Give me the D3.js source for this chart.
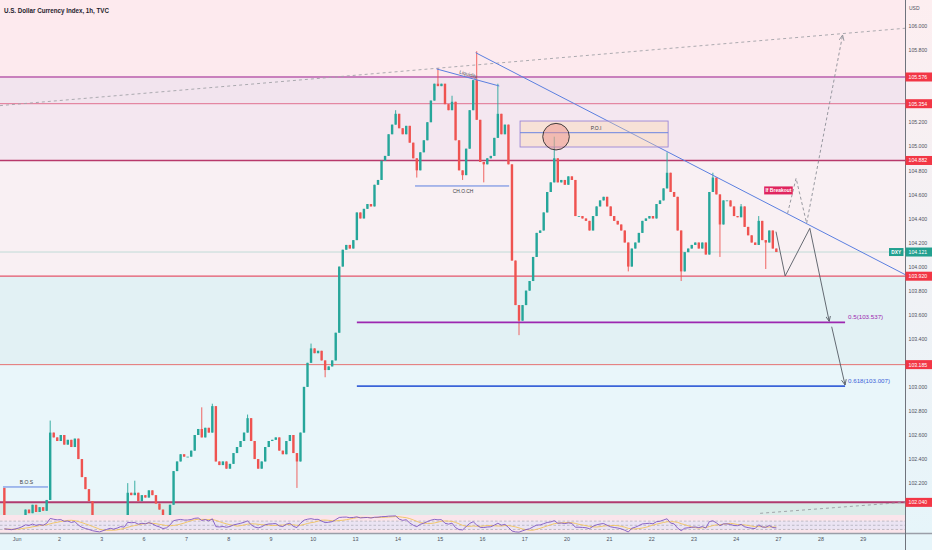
<!DOCTYPE html>
<html>
<head>
<meta charset="utf-8">
<script src="https://cdnjs.cloudflare.com/ajax/libs/d3/7.8.5/d3.min.js"></script>
<style>
  html, body { margin: 0; padding: 0; background: #e6f5fa; }
  svg { display: block; font-family: "Liberation Sans", Arial, sans-serif; }
</style>
</head>
<body>
<div id="chart"></div>
<script>
// ---- data (2h candles, bar 0 = Jun 1 00:00, weekends collapsed) ----
const dayLabels = ["Jun", "2", "3", "6", "7", "8", "9", "10", "13", "14", "15", "16", "17", "20", "21", "22", "23", "24", "27", "28", "29"];
const firstBar = -4;
const firstOpen = 102.16;
const closes = [
  101.85, 101.80, 101.75, 101.78,
  101.82, 101.88, 101.98, 101.95, 102.02, 101.96, 102.00, 101.97, 102.06, 102.62, 102.58, 102.55,
  102.60, 102.52, 102.56, 102.50, 102.57, 102.40, 102.25, 102.15, 102.05, 101.90, 101.80, 101.70,
  101.75, 101.80, 101.85, 101.78, 101.82, 101.88, 101.85, 102.12, 102.10, 102.12, 102.05, 102.10,
  102.08, 102.14, 102.10, 102.03, 101.98, 101.90, 101.92, 102.02, 102.30, 102.38, 102.44, 102.42,
  102.42, 102.47, 102.60, 102.65, 102.58, 102.66, 102.62, 102.84, 102.38, 102.35, 102.38, 102.32,
  102.36, 102.45, 102.50, 102.55, 102.62, 102.74, 102.55, 102.40, 102.32, 102.38, 102.50, 102.55,
  102.56, 102.58, 102.47, 102.44, 102.55, 102.60, 102.45, 102.38, 102.62, 103.00, 103.20, 103.32,
  103.28, 103.30, 103.22, 103.14, 103.17, 103.22, 103.45, 104.00, 104.14, 104.18, 104.15, 104.22,
  104.45, 104.40, 104.48, 104.52, 104.50, 104.68, 104.72, 104.88, 104.92, 105.10, 105.18, 105.27,
  105.15, 105.10, 105.17, 105.03, 104.90, 104.80, 104.95, 105.05, 105.20, 105.38, 105.52, 105.50,
  105.52, 105.35, 105.30, 105.37, 105.05, 104.80, 104.76, 104.98, 105.30, 105.55, 105.22, 104.87,
  104.85, 104.90, 104.92, 105.07, 105.27, 105.10, 105.18, 104.85, 104.05, 103.68, 103.55, 103.68,
  103.80, 103.88, 104.08, 104.28, 104.30, 104.45, 104.62, 104.70, 104.90, 104.70, 104.72, 104.68,
  104.75, 104.72, 104.42, 104.42, 104.40, 104.38, 104.30, 104.42, 104.50, 104.55, 104.58, 104.50,
  104.42, 104.38, 104.35, 104.30, 104.20, 104.00, 104.15, 104.20, 104.28, 104.38, 104.40, 104.42,
  104.40, 104.52, 104.55, 104.65, 104.78, 104.62, 104.58, 104.30, 103.96, 104.12, 104.15, 104.18,
  104.20, 104.15, 104.20, 104.10, 104.62, 104.74, 104.60, 104.35, 104.55, 104.55, 104.50, 104.42,
  104.41, 104.50, 104.33, 104.26, 104.20, 104.18, 104.38, 104.22, 104.20, 104.30, 104.15, 104.121
];
// wick extremes [bar, price]
const wickHighs = [[9, 102.72], [31, 102.20], [33, 102.22], [52, 102.83], [55, 102.86], [65, 102.77],
  [83, 103.36], [107, 105.30], [119, 105.65], [123, 105.42], [130, 105.79], [136, 105.52],
  [152, 105.08], [184, 104.95], [197, 104.78], [205, 104.52], [210, 104.42]];
const wickLows = [[79, 102.16], [87, 103.08], [113, 104.74], [126, 104.72], [132, 104.70], [142, 103.43],
  [173, 103.96], [188, 103.88], [199, 104.08], [212, 103.98]];

const priceTicks = [102.0, 102.2, 102.4, 102.6, 102.8, 103.0, 103.2, 103.4, 103.6, 103.8, 104.0,
  104.2, 104.4, 104.6, 104.8, 105.0, 105.2, 105.4, 105.6, 105.8, 106.0];
const levels = [105.576, 105.354, 104.882, 103.920, 103.185, 102.040];
const lastPrice = 104.121;
const fibRatios = ["0.5", "0.618"];
const fibPrices = [103.537, 103.007];

// drawing anchors [time, price]
const trendTop = [[-4.74, 105.338], [252.0, 105.981]];
const trendDown = [[130.2, 105.778], [252.0, 103.934]];
const trendLow = [[210.9, 101.949], [252.0, 102.041]];
const liquidityLine = [[119.1, 105.643], [136.9, 105.501]];
const chochLine = [[113.0, 104.670], [139.7, 104.670]];
const bosLine = [[-3.89, 102.168], [8.88, 102.168]];
const poiTimes = [142.8, 184.8];
const poiPrices = [105.210, 105.113, 104.994];
const poiCircle = [153.0, 105.080];
const fibTimes = [96.5, 235.0];
const bearPath = [[215.4, 104.290], [218.0, 103.922], [225.0, 104.318], [230.5, 103.545]];
const bearPath2 = [[231.2, 103.500], [235.0, 103.016]];
const bullPath = [[218.7, 104.443], [221.1, 104.734], [224.1, 104.360], [234.3, 105.925]];
const breakoutAnchor = [216.1, 104.633];

// ---- layout ----
const W = 932, H = 550, plotRight = 905, mainBottom = 515, rsiBottom = 533;
const upColor = "#26a69a", downColor = "#ef5350";
const zoneFills = ["#fdeaee", "#f2e4ee", "#f4e7f0", "#f9f0f3", "#e2f1f4", "#e9f6fa", "#d9ebe8"];
const levelColors = ["#c980bd", "#e0708f", "#b8386a", "#e5546a", "#e57373", "#b03a6e"];
const levelWidths = [2, 1, 1.5, 1.2, 1, 2];

const x = d3.scaleLinear().domain([0, 240]).range([16.7, 862.7]);
const y = d3.scaleLinear().domain([101.935, 106.216]).range([mainBottom, 0]);

const svg = d3.select("#chart").append("svg").attr("width", W).attr("height", H);
const defs = svg.append("defs");
defs.append("clipPath").attr("id", "mainClip").append("rect")
  .attr("x", 0).attr("y", 0).attr("width", plotRight).attr("height", mainBottom);
defs.append("clipPath").attr("id", "rsiClip").append("rect")
  .attr("x", 0).attr("y", mainBottom).attr("width", plotRight).attr("height", rsiBottom - mainBottom);
const grad = defs.append("linearGradient").attr("id", "axisBg").attr("x1", 0).attr("y1", 0).attr("x2", 0).attr("y2", 1);
grad.append("stop").attr("offset", "0%").attr("stop-color", "#fdeef0");
grad.append("stop").attr("offset", "100%").attr("stop-color", "#e6f5fa");

function addArrow(id, color) {
  defs.append("marker").attr("id", id).attr("viewBox", "0 0 10 10")
    .attr("refX", 9).attr("refY", 5).attr("markerWidth", 6).attr("markerHeight", 6)
    .attr("markerUnits", "userSpaceOnUse").attr("orient", "auto")
    .append("path").attr("d", "M0,1 L9,5 L0,9").attr("fill", "none")
    .attr("stroke", color).attr("stroke-width", 1.4);
}
addArrow("arrowSolid", "#555a63");
addArrow("arrowDash", "#8c8f96");

// backgrounds
svg.append("rect").attr("width", W).attr("height", H).attr("fill", "#e6f5fa");
svg.append("rect").attr("x", plotRight).attr("width", W - plotRight).attr("height", rsiBottom).attr("fill", "url(#axisBg)");

const main = svg.append("g").attr("clip-path", "url(#mainClip)");
const bounds = [y.domain()[1]].concat(levels, [y.domain()[0]]);
main.selectAll("rect.zone").data(zoneFills).enter().append("rect")
  .attr("class", "zone")
  .attr("x", 0).attr("width", plotRight)
  .attr("y", (d, i) => y(bounds[i]))
  .attr("height", (d, i) => y(bounds[i + 1]) - y(bounds[i]))
  .attr("fill", d => d);

// current price line
main.append("line").attr("x1", 0).attr("x2", plotRight)
  .attr("y1", y(lastPrice)).attr("y2", y(lastPrice))
  .attr("stroke", "#b4d6d1").attr("stroke-width", 0.8);

// level lines
main.selectAll("line.level").data(levels).enter().append("line")
  .attr("class", "level")
  .attr("x1", 0).attr("x2", plotRight)
  .attr("y1", d => y(d)).attr("y2", d => y(d))
  .attr("stroke", (d, i) => levelColors[i]).attr("stroke-width", (d, i) => levelWidths[i]);

// candles
const highMap = new Map(wickHighs), lowMap = new Map(wickLows);
const bars = closes.map((c, i) => {
  const b = firstBar + i;
  const o = i === 0 ? firstOpen : closes[i - 1];
  let h = Math.max(o, c), l = Math.min(o, c);
  if (highMap.has(b)) h = Math.max(h, highMap.get(b));
  if (lowMap.has(b)) l = Math.min(l, lowMap.get(b));
  return { b, o, h, l, c };
});
const candles = main.append("g");
candles.selectAll("line").data(bars).enter().append("line")
  .attr("x1", d => x(d.b + 0.5)).attr("x2", d => x(d.b + 0.5))
  .attr("y1", d => y(d.h)).attr("y2", d => y(d.l))
  .attr("stroke", d => d.c >= d.o ? upColor : downColor).attr("stroke-width", 0.9);
candles.selectAll("rect").data(bars).enter().append("rect")
  .attr("x", d => x(d.b + 0.5) - 1.2).attr("width", 2.4)
  .attr("y", d => y(Math.max(d.o, d.c)))
  .attr("height", d => Math.max(0.8, Math.abs(y(d.o) - y(d.c))))
  .attr("fill", d => d.c >= d.o ? upColor : downColor);

const line = d3.line().x(d => x(d[0])).y(d => y(d[1]));

// trend lines
main.append("path").attr("d", line(trendTop)).attr("fill", "none")
  .attr("stroke", "#a3a3a8").attr("stroke-width", 0.9).attr("stroke-dasharray", "3,3");
main.append("path").attr("d", line(trendLow)).attr("fill", "none")
  .attr("stroke", "#9a9ca2").attr("stroke-width", 0.9).attr("stroke-dasharray", "3,3");
main.append("path").attr("d", line(trendDown)).attr("fill", "none")
  .attr("stroke", "#5b7fe0").attr("stroke-width", 1);
main.append("path").attr("d", line(liquidityLine)).attr("fill", "none")
  .attr("stroke", "#5b7fe0").attr("stroke-width", 1);
main.append("path").attr("d", line(chochLine)).attr("fill", "none")
  .attr("stroke", "#5b7fe0").attr("stroke-width", 1);
main.append("path").attr("d", line(bosLine)).attr("fill", "none")
  .attr("stroke", "#5b7fe0").attr("stroke-width", 1);

const small = (sel, size, color) => sel.attr("font-size", size).attr("fill", color);
// liquidity label, tilted along its line
const lq0 = [x(liquidityLine[0][0]), y(liquidityLine[0][1])];
const lq1 = [x(liquidityLine[1][0]), y(liquidityLine[1][1])];
const lqAngle = Math.atan2(lq1[1] - lq0[1], lq1[0] - lq0[0]) * 180 / Math.PI;
small(main.append("text").text("Liquidity")
  .attr("transform", `translate(${(lq0[0] + lq1[0]) / 2},${(lq0[1] + lq1[1]) / 2 - 1.5}) rotate(${lqAngle})`)
  .attr("text-anchor", "middle"), 5, "#4a4d55");
small(main.append("text").text("CH.O.CH")
  .attr("x", (x(chochLine[0][0]) + x(chochLine[1][0])) / 2 + 1).attr("y", y(chochLine[0][1]) + 7.5)
  .attr("text-anchor", "middle"), 4.9, "#3b3e45");
small(main.append("text").text("B.O.S")
  .attr("x", (x(bosLine[0][0]) + x(bosLine[1][0])) / 2 + 1).attr("y", y(bosLine[0][1]) - 2.5)
  .attr("text-anchor", "middle"), 5, "#3b3e45");

// POI box
main.append("rect")
  .attr("x", x(poiTimes[0])).attr("width", x(poiTimes[1]) - x(poiTimes[0]))
  .attr("y", y(poiPrices[0])).attr("height", y(poiPrices[2]) - y(poiPrices[0]))
  .attr("fill", "rgba(252,214,170,0.35)").attr("stroke", "#9b86d6").attr("stroke-width", 0.9);
main.append("line")
  .attr("x1", x(poiTimes[0])).attr("x2", x(poiTimes[1]))
  .attr("y1", y(poiPrices[1])).attr("y2", y(poiPrices[1]))
  .attr("stroke", "#6a84e0").attr("stroke-width", 1);
small(main.append("text").text("P.O.I")
  .attr("x", (x(poiTimes[0]) + x(poiTimes[1])) / 2 + 2).attr("y", y(poiPrices[1]) - 3)
  .attr("text-anchor", "middle"), 5, "#3b3e45");
main.append("circle")
  .attr("cx", x(poiCircle[0])).attr("cy", y(poiCircle[1])).attr("r", 13.3)
  .attr("fill", "rgba(236,140,130,0.45)").attr("stroke", "#2b2b2e").attr("stroke-width", 0.9);

// fib lines
const fibColors = ["#9c27b0", "#3a63d8"];
main.selectAll("line.fib").data(fibPrices).enter().append("line")
  .attr("class", "fib")
  .attr("x1", x(fibTimes[0])).attr("x2", x(fibTimes[1]))
  .attr("y1", d => y(d)).attr("y2", d => y(d))
  .attr("stroke", (d, i) => fibColors[i]).attr("stroke-width", 1.8);
main.selectAll("text.fib").data(fibPrices).enter().append("text")
  .attr("class", "fib")
  .attr("x", x(fibTimes[1]) + 3).attr("y", d => y(d) - 3.5)
  .attr("font-size", 6.2).attr("fill", (d, i) => fibColors[i])
  .text((d, i) => `${fibRatios[i]}(${d.toFixed(3)})`);

// projected paths
main.append("path").attr("d", line(bearPath)).attr("fill", "none")
  .attr("stroke", "#555a63").attr("stroke-width", 0.9).attr("marker-end", "url(#arrowSolid)");
main.append("path").attr("d", line(bearPath2)).attr("fill", "none")
  .attr("stroke", "#555a63").attr("stroke-width", 0.9).attr("marker-end", "url(#arrowSolid)");
main.append("path").attr("d", line(bullPath)).attr("fill", "none")
  .attr("stroke", "#8c8f96").attr("stroke-width", 0.9).attr("stroke-dasharray", "3,2.5")
  .attr("marker-end", "url(#arrowDash)");

// If Breakout tag
const bx = x(breakoutAnchor[0]), by = y(breakoutAnchor[1]);
main.append("rect").attr("x", bx - 14.3).attr("y", by - 4).attr("width", 28.6).attr("height", 8)
  .attr("fill", "#e0245e");
main.append("text").text("If Breakout").attr("x", bx).attr("y", by + 2)
  .attr("text-anchor", "middle").attr("font-size", 5).attr("font-weight", "bold").attr("fill", "#fff")
  .attr("textLength", 26).attr("lengthAdjust", "spacingAndGlyphs");

// ---- RSI pane (14 hourly bars = 7 two-hour bars) ----
function wilderRsi(vals, n) {
  const out = [];
  let ag = 0.05, al = 0.05;
  for (let i = 1; i < vals.length; i++) {
    const ch = vals[i] - vals[i - 1];
    ag = (ag * (n - 1) + Math.max(ch, 0)) / n;
    al = (al * (n - 1) + Math.max(-ch, 0)) / n;
    out.push(al === 0 ? 100 : 100 - 100 / (1 + ag / al));
  }
  return out;
}
const rsiVals = wilderRsi([firstOpen].concat(closes), 7);
const rsiMa = rsiVals.map((v, i) => d3.mean(rsiVals.slice(Math.max(0, i - 6), i + 1)));
const yr = d3.scaleLinear().domain([0, 100]).range([535.7, 514.9]);

const rsi = svg.append("g").attr("clip-path", "url(#rsiClip)");
rsi.append("rect").attr("x", 0).attr("y", mainBottom).attr("width", plotRight).attr("height", rsiBottom - mainBottom)
  .attr("fill", "#fae5eb");
rsi.append("rect").attr("x", 0).attr("y", yr(70)).attr("width", plotRight).attr("height", yr(30) - yr(70))
  .attr("fill", "#ebe4f3");
rsi.selectAll("line.band").data([70, 50, 30]).enter().append("line")
  .attr("class", "band")
  .attr("x1", 0).attr("x2", plotRight).attr("y1", d => yr(d)).attr("y2", d => yr(d))
  .attr("stroke", "#a9a9b3").attr("stroke-width", 0.7).attr("stroke-dasharray", "2.5,2");
const rsiLine = d3.line().x((d, i) => x(firstBar + i + 0.5)).y(d => yr(d));
rsi.append("path").attr("d", rsiLine(rsiMa)).attr("fill", "none")
  .attr("stroke", "#f2c35b").attr("stroke-width", 0.9);
rsi.append("path").attr("d", rsiLine(rsiVals)).attr("fill", "none")
  .attr("stroke", "#7e57c2").attr("stroke-width", 0.9);

// ---- axes ----
svg.append("line").attr("x1", 0).attr("x2", W).attr("y1", rsiBottom + 0.5).attr("y2", rsiBottom + 0.5)
  .attr("stroke", "#9a9ea8").attr("stroke-width", 1.4);
svg.append("line").attr("x1", plotRight + 0.5).attr("x2", plotRight + 0.5).attr("y1", 0).attr("y2", H)
  .attr("stroke", "#6f737c").attr("stroke-width", 1);

// tick labels that sit under a price tag are hidden, as on the reference
const tagPrices = levels.concat([lastPrice]);
const freeTicks = priceTicks.filter(t => tagPrices.every(p => Math.abs(y(t) - y(p)) > 7));
const yAxis = svg.append("g").attr("transform", `translate(${plotRight},0)`)
  .call(d3.axisRight(y).tickValues(freeTicks).tickSize(0).tickPadding(3.5).tickFormat(d3.format(".3f")));
yAxis.select(".domain").remove();
yAxis.selectAll("text").attr("font-size", 5.2).attr("fill", "#50535e")
  .attr("font-family", "Liberation Sans, Arial, sans-serif");

const xAxis = svg.append("g").attr("transform", `translate(0,${rsiBottom})`)
  .call(d3.axisBottom(x).tickValues(dayLabels.map((d, i) => i * 12)).tickSize(0).tickPadding(4)
    .tickFormat((d, i) => dayLabels[i]));
xAxis.select(".domain").remove();
xAxis.selectAll("text").attr("font-size", 5.4).attr("fill", "#50535e")
  .attr("font-family", "Liberation Sans, Arial, sans-serif");

svg.append("text").text("USD").attr("x", 909).attr("y", 9.5)
  .attr("font-size", 5).attr("fill", "#50535e");

// level price tags
const tags = svg.append("g");
tags.selectAll("rect").data(levels).enter().append("rect")
  .attr("x", plotRight + 0.5).attr("width", W - plotRight).attr("y", d => y(d) - 4.5).attr("height", 9)
  .attr("fill", "#f23645");
tags.selectAll("text").data(levels).enter().append("text")
  .attr("x", plotRight + 3.5).attr("y", d => y(d) + 2)
  .attr("font-size", 5.2).attr("fill", "#fff").text(d => d.toFixed(3));

// last price tag
const ly = y(lastPrice);
svg.append("rect").attr("x", 889).attr("y", ly - 4).attr("width", 14.5).attr("height", 8).attr("fill", "#22a08f");
svg.append("text").text("DXY").attr("x", 896.2).attr("y", ly + 2).attr("text-anchor", "middle")
  .attr("font-size", 4.8).attr("font-weight", "bold").attr("fill", "#fff");
svg.append("rect").attr("x", plotRight + 0.5).attr("y", ly - 4.5).attr("width", W - plotRight).attr("height", 9).attr("fill", "#22a08f");
svg.append("text").text(lastPrice.toFixed(3)).attr("x", plotRight + 3.5).attr("y", ly + 2)
  .attr("font-size", 5.2).attr("fill", "#fff");

// title
svg.append("text").text("U.S. Dollar Currency Index, 1h, TVC")
  .attr("x", 4).attr("y", 12.5).attr("font-size", 7.6).attr("font-weight", "bold").attr("fill", "#1e222d")
  .attr("textLength", 105).attr("lengthAdjust", "spacingAndGlyphs");
</script>
</body>
</html>
